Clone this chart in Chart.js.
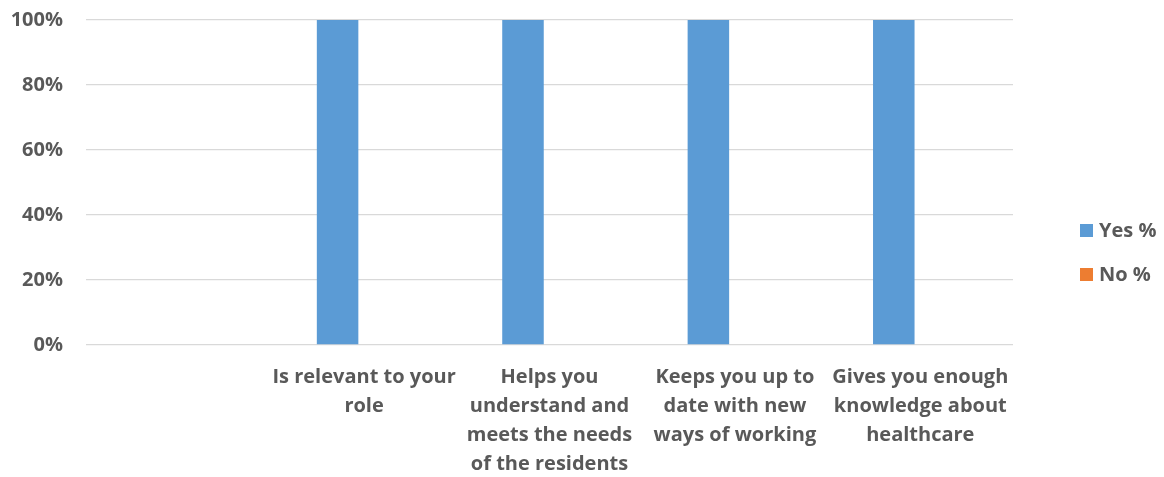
<!DOCTYPE html>
<html>
<head>
<meta charset="utf-8">
<title>Survey results</title>
<script src="https://cdn.jsdelivr.net/npm/chart.js@4/dist/chart.umd.min.js"></script>
<style>
  body { margin: 0; background: #fff; }
  #wrap { width: 1164px; height: 477px; }
</style>
</head>
<body>
<div id="wrap"><canvas id="surveyChart"></canvas></div>
<script>
/**************************************************************
 * Data
 **************************************************************/
const categories = [
  "",
  ["Is relevant to your", "role"],
  ["Helps you", "understand and", "meets the needs", "of the residents"],
  ["Keeps you up to", "date with new", "ways of working"],
  ["Gives you enough", "knowledge about", "healthcare"]
];
const yesValues = [null, 100, 100, 100, 100];
const noValues = [null, 0, 0, 0, 0];
const yTicks = [0, 20, 40, 60, 80, 100];

const TEXT_COLOR = "#595959";
const GRID_COLOR = "#d9d9d9";

Chart.defaults.font.family = "'Open Sans', sans-serif";
Chart.defaults.font.weight = "bold";
Chart.defaults.color = TEXT_COLOR;

// Legend drawn at the right side, Excel style
const sideLegend = {
  id: "sideLegend",
  afterDraw(chart) {
    const { ctx, chartArea } = chart;
    ctx.save();
    ctx.font = "bold 20px 'Open Sans', sans-serif";
    ctx.textBaseline = "middle";
    chart.data.datasets.forEach((ds, i) => {
      const x = chartArea.right + 67;
      const y = chartArea.top + 211 + i * 44;
      ctx.fillStyle = ds.backgroundColor;
      ctx.fillRect(x, y - 7, 13, 13);
      ctx.fillStyle = TEXT_COLOR;
      ctx.fillText(ds.label, x + 19, y);
    });
    ctx.restore();
  }
};

/**************************************************************
 * Chart
 **************************************************************/
const ctx = document.getElementById("surveyChart").getContext("2d");

new Chart(ctx, {
  type: "bar",
  data: {
    labels: categories,
    datasets: [
      { label: "Yes %", data: yesValues, backgroundColor: "#5b9bd5" },
      { label: "No %", data: noValues, backgroundColor: "#ed7d31" }
    ]
  },
  options: {
    responsive: true,
    maintainAspectRatio: false,
    animation: false,
    categoryPercentage: 0.572,
    barPercentage: 0.783,
    layout: { padding: { left: 10, right: 151, top: 20, bottom: 0 } },
    scales: {
      x: {
        grid: { display: false },
        border: { display: false },
        afterFit: axis => { axis.height = 132; },
        ticks: {
          font: { size: 20, weight: "bold", lineHeight: 1.45 },
          padding: 10,
          maxRotation: 0,
          autoSkip: false
        }
      },
      y: {
        min: 0,
        max: 100,
        afterBuildTicks: axis => { axis.ticks = yTicks.map(v => ({ value: v })); },
        afterFit: axis => {
          axis.width = 76;
          axis.paddingTop = 0;
          axis.paddingBottom = 0;
        },
        grid: { color: GRID_COLOR, lineWidth: 1.3, drawTicks: false },
        border: { display: false },
        ticks: {
          font: { size: 20, weight: "bold" },
          padding: 23,
          callback: v => v + "%"
        }
      }
    },
    plugins: {
      legend: { display: false },
      tooltip: { enabled: false }
    }
  },
  plugins: [sideLegend]
});
</script>
</body>
</html>
